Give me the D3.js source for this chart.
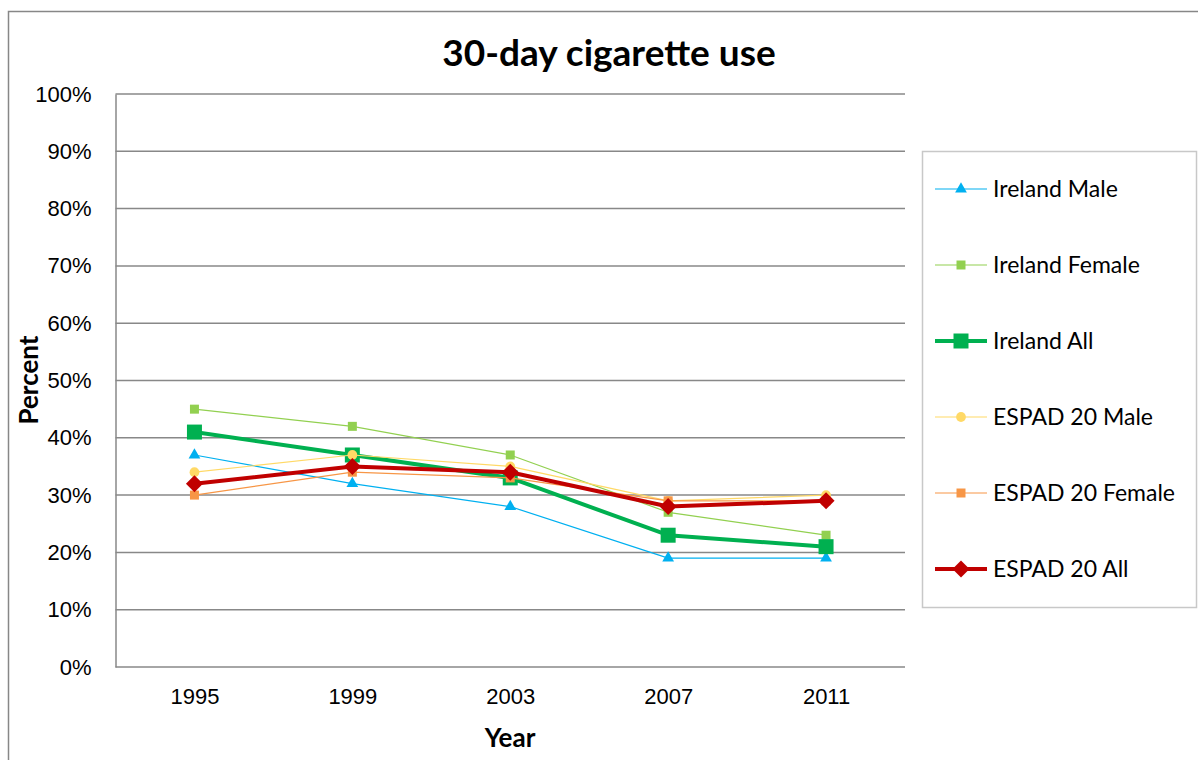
<!DOCTYPE html>
<html><head><meta charset="utf-8">
<script src="https://cdn.jsdelivr.net/npm/d3@7"></script>
<style>body{margin:0;background:#fff}svg{display:block;font-family:Lato,"Open Sans",sans-serif}</style>
</head><body><svg id="c" width="1198" height="760"></svg>
<script>
const years = ["1995","1999","2003","2007","2011"];
const irelandMale = [37,32,28,19,19];
const irelandFemale = [45,42,37,27,23];
const irelandAll = [41,37,33,23,21];
const espadMale = [34,37,35,29,30];
const espadFemale = [30,34,33,29,29];
const espadAll = [32,35,34,28,29];
const yTicks = [0,10,20,30,40,50,60,70,80,90,100];

const series = [
  {name:"Ireland Male", values:irelandMale, color:"#00B0F0", w:1.2, sym:d3.symbolTriangle, size:60},
  {name:"Ireland Female", values:irelandFemale, color:"#92D050", w:1.2, sym:d3.symbolSquare, size:81},
  {name:"Ireland All", values:irelandAll, color:"#00B050", w:4, sym:d3.symbolSquare, size:225},
  {name:"ESPAD 20 Male", values:espadMale, color:"#FFD966", w:1.2, sym:d3.symbolCircle, size:75},
  {name:"ESPAD 20 Female", values:espadFemale, color:"#F79646", w:1.2, sym:d3.symbolSquare, size:81},
  {name:"ESPAD 20 All", values:espadAll, color:"#C00000", w:4, sym:"diamond", size:8.5}
];

const svg = d3.select("#c");
svg.append("rect").attr("x",8.5).attr("y",11.5).attr("width",1200).attr("height",800)
  .attr("fill","#fff").attr("stroke","#878787").attr("stroke-width",1.5);

const L=115.5, R=905, T=94, B=667;
const x = d3.scalePoint().domain(years).range([L,R]).padding(0.5);
const y = d3.scaleLinear().domain([0,100]).range([B,T]);

const grid = svg.append("g");
yTicks.filter(t=>t>0).forEach(t=>{
  grid.append("line").attr("x1",L).attr("x2",R).attr("y1",y(t)).attr("y2",y(t))
    .attr("stroke","#888").attr("stroke-width",1.5);
});

const yAxis = svg.append("g").attr("transform",`translate(${L},0)`)
  .call(d3.axisLeft(y).tickValues(yTicks).tickFormat(d=>d+"%").tickSize(0).tickPadding(24));
yAxis.select(".domain").attr("stroke","#888").attr("stroke-width",1.5);
yAxis.selectAll("text").attr("font-size",22).attr("fill","#000");

const xAxis = svg.append("g").attr("transform",`translate(0,${B})`)
  .call(d3.axisBottom(x).tickSize(0).tickPadding(21));
xAxis.select(".domain").attr("stroke","#888").attr("stroke-width",1.5).attr("d",`M${L},0H${R}`);
xAxis.selectAll("text").attr("font-size",22).attr("fill","#000");

svg.append("text").attr("x",609).attr("y",66).attr("text-anchor","middle")
  .attr("font-size",37).attr("font-weight","bold").text("30-day cigarette use");
svg.append("text").attr("x",510).attr("y",747).attr("text-anchor","middle")
  .attr("font-size",26).attr("font-weight","bold").text("Year");
svg.append("text").attr("transform","translate(38,380) rotate(-90)").attr("text-anchor","middle")
  .attr("font-size",26).attr("font-weight","bold").text("Percent");

function marker(g, s, cx, cy){
  if(s.sym==="diamond"){
    const r=s.size;
    g.append("path").attr("d",`M${cx},${cy-r}L${cx+r},${cy}L${cx},${cy+r}L${cx-r},${cy}Z`).attr("fill",s.color);
  } else {
    g.append("path").attr("d",d3.symbol().type(s.sym).size(s.size)()).attr("transform",`translate(${cx},${cy})`).attr("fill",s.color);
  }
}

const line = d3.line().x((d,i)=>x(years[i])).y(d=>y(d));
series.forEach(s=>{
  const g = svg.append("g");
  g.append("path").attr("d",line(s.values)).attr("fill","none").attr("stroke",s.color).attr("stroke-width",s.w).attr("stroke-linejoin","round");
  s.values.forEach((v,i)=>marker(g,s,x(years[i]),y(v)));
});

// legend
svg.append("rect").attr("x",922.5).attr("y",151.5).attr("width",274).attr("height",456)
  .attr("fill","#fff").attr("stroke","#c8c8c8").attr("stroke-width",1.5);
series.forEach((s,i)=>{
  const ly = 189 + i*76;
  const g = svg.append("g");
  g.append("line").attr("x1",935).attr("x2",987).attr("y1",ly).attr("y2",ly).attr("stroke",s.color).attr("stroke-width",s.w);
  marker(g,s,961,ly);
  svg.append("text").attr("x",993).attr("y",ly).attr("dy","0.35em").attr("font-size",23).text(s.name);
});
</script></body></html>
